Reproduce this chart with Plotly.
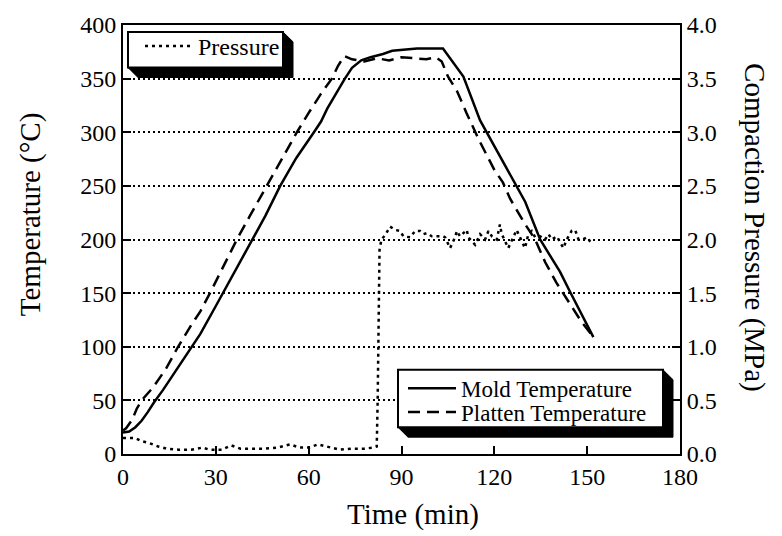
import plotly.graph_objects as go

# ---------------- data ----------------
time_mold = [0, 2, 4, 6, 8, 10, 13, 16, 20, 25, 30, 32.3, 36, 41.7, 46, 50.8, 56, 61.7, 64,
             66, 70, 71.7, 74, 77, 80, 84, 87, 90, 95, 103.4, 106, 110, 115.4, 120, 126.7,
             130, 134.8, 138, 141.2, 144.5, 148, 152]
mold_temp = [20, 21, 25, 31, 39, 48, 60, 73, 90, 112, 138, 150, 170, 200, 222, 250, 276, 300, 310,
             322, 342, 350, 360, 367, 370, 373, 376, 377, 378, 378, 368, 352, 311, 287, 253,
             235, 200, 185, 170, 151, 131, 109]

time_platten = [0, 1, 3, 4.4, 6, 9.7, 14, 17.8, 22, 25, 28.1, 32, 36.8, 41, 46.5, 51, 56.2, 60,
                64, 67.5, 69.5, 71.5, 74, 78, 82, 86, 90, 94, 98, 101, 103, 105, 108, 111, 115,
                120, 122.8, 125.1, 130, 133.2, 136.4, 140, 144.5, 148, 151.5]
platten_temp = [22, 24, 32, 42, 50, 62, 80, 100, 120, 133, 150, 172, 200, 222, 250, 274, 300, 318,
                336, 350, 362, 371, 368, 366, 369, 367, 370, 369, 368, 370, 366, 352, 338, 318, 293,
                265, 253, 238, 214, 200, 179, 160, 139, 124, 111]

time_pressure = [0, 2, 3.9, 6, 8.7, 11.4, 14, 18, 22, 25.7, 28, 32, 35, 38, 42, 46, 50, 54, 57,
                 60, 63, 66, 70, 74, 78, 81, 82, 82.3, 82.5, 82.7, 82.9, 83.5, 84.7, 86.3, 87.9,
                 89.5, 90.6, 92.8, 94.4, 96.0, 97.1, 98.2, 99.8, 101.4, 103.5, 104.1, 105.7,
                 107.3, 107.9, 108.9, 111.1, 111.6, 112.7, 113.8, 115.4, 117.0, 118.1, 119.2,
                 120.8, 121.8, 122.4, 124.5, 126.1, 127.2, 128.3, 129.9, 131.0, 132.1, 133.2,
                 134.8, 136.4, 137.5, 138.6, 140.2, 142.3, 143.4, 145.0, 146.1, 147.2, 148.5,
                 150, 151]
pressure = [0.15, 0.15, 0.15, 0.12, 0.10, 0.07, 0.05, 0.04, 0.04, 0.06, 0.04, 0.04, 0.08, 0.05,
            0.05, 0.05, 0.06, 0.09, 0.06, 0.06, 0.09, 0.07, 0.04, 0.05, 0.05, 0.06, 0.07, 0.5,
            1.0, 1.5, 1.9, 2.0, 2.04, 2.12, 2.09, 2.08, 2.03, 2.02, 2.08, 2.08, 2.05, 2.06, 2.03,
            2.03, 2.03, 2.02, 1.92, 2.02, 2.08, 2.03, 2.09, 2.02, 1.98, 1.95, 2.05, 2.0, 2.08,
            2.03, 2.0, 2.14, 2.05, 1.92, 2.02, 2.09, 2.02, 1.92, 2.05, 2.08, 2.02, 2.03, 2.0,
            2.05, 2.0, 2.03, 1.92, 2.0, 2.08, 2.09, 2.0, 2.0, 2.02, 1.98]

x_ticks = [0, 30, 60, 90, 120, 150, 180]
y_ticks = [0, 50, 100, 150, 200, 250, 300, 350, 400]
y2_ticks = [0.0, 0.5, 1.0, 1.5, 2.0, 2.5, 3.0, 3.5, 4.0]
y2_labels = ["0.0", "0.5", "1.0", "1.5", "2.0", "2.5", "3.0", "3.5", "4.0"]

# ---------------- layout geometry (pixels) ----------------
W, H = 782, 536
PL, PR, PT, PB = 123, 680, 21, 454
FONT = "Liberation Serif"


def px(x):
    return (x - PL) / (PR - PL)


def py(y):
    return (PB - y) / (PB - PT)


def shadow_path(x0, y0, x1, y1, d=10):
    pts = [(x1, y0), (x1 + d, y0 + d), (x1 + d, y1 + d), (x0 + d, y1 + d), (x0, y1), (x1, y1)]
    return "M" + " L".join(f"{px(a):.5f},{py(b):.5f}" for a, b in pts) + " Z"


fig = go.Figure()
fig.add_trace(go.Scatter(x=time_mold, y=mold_temp, mode="lines", name="Mold Temperature",
                         line=dict(color="black", width=2.5), legend="legend2", showlegend=True))
fig.add_trace(go.Scatter(x=time_platten, y=platten_temp, mode="lines", name="Platten Temperature",
                         line=dict(color="black", width=2.5, dash="12px,7px"), legend="legend3",
                         showlegend=True))
fig.add_trace(go.Scatter(x=time_pressure, y=pressure, mode="lines", name="Pressure", yaxis="y2",
                         line=dict(color="black", width=2.5, dash="3px,4px"), legend="legend",
                         showlegend=True))

shapes = []
for (x0, y0, x1, y1) in [(128, 28, 283, 64), (398, 369, 663, 427)]:
    shapes.append(dict(type="path", xref="paper", yref="paper", path=shadow_path(x0, y0, x1, y1),
                       fillcolor="black", line=dict(color="black", width=1), layer="above"))
    shapes.append(dict(type="rect", xref="paper", yref="paper", x0=px(x0), x1=px(x1),
                       y0=py(y1), y1=py(y0), fillcolor="white",
                       line=dict(color="black", width=2), layer="above"))

tickfont = dict(family=FONT, size=24, color="black")


def leg(xp, yp, iw=30, size=24):
    return dict(x=px(xp), y=py(yp), xanchor="left", yanchor="top", visible=True,
                bgcolor="rgba(0,0,0,0)", borderwidth=0, itemwidth=iw,
                font=dict(family=FONT, size=size, color="black"))


fig.update_layout(
    width=W, height=H, autosize=False, showlegend=True,
    margin=dict(l=PL, r=W - PR, t=PT, b=H - PB),
    paper_bgcolor="white", plot_bgcolor="white",
    font=dict(family=FONT, color="black"),
    xaxis=dict(range=[0, 180], tickvals=x_ticks, ticktext=[str(v) for v in x_ticks],
               ticks="inside", ticklen=8, tickwidth=2, tickcolor="black",
               showline=True, linewidth=2, linecolor="black", mirror=True,
               showgrid=False, zeroline=False, tickfont=tickfont),
    yaxis=dict(range=[0, 400], tickvals=y_ticks, ticks="inside", ticklen=8, tickwidth=2,
               tickcolor="black", showline=True, linewidth=2, linecolor="black", mirror=True,
               showgrid=True, gridcolor="black", gridwidth=1.5, griddash="2px,3px",
               zeroline=False, tickfont=tickfont),
    yaxis2=dict(range=[0, 4], tickvals=y2_ticks, ticktext=y2_labels, overlaying="y", side="right",
                ticks="inside", ticklen=8, tickwidth=2, tickcolor="black",
                showline=True, linewidth=2, linecolor="black", showgrid=False, zeroline=False,
                tickfont=tickfont),
    legend=leg(140, 20, 48, 24),
    legend2=leg(403, 366, 48, 23),
    legend3=leg(403, 390, 48, 23),
    shapes=shapes,
    annotations=[
        dict(text="Time (min)", x=px(413), y=py(515), xref="paper", yref="paper",
             xanchor="center", yanchor="middle",
             showarrow=False, font=dict(family=FONT, size=29, color="black")),
        dict(text="Temperature (°C)", x=px(30), y=py(212), xref="paper", yref="paper",
             xanchor="center", yanchor="middle",
             showarrow=False, textangle=-90, font=dict(family=FONT, size=29, color="black")),
        dict(text="Compaction Pressure (MPa)", x=px(755), y=py(225), xref="paper", yref="paper",
             xanchor="center", yanchor="middle",
             showarrow=False, textangle=90, font=dict(family=FONT, size=29, color="black")),
    ],
)

fig.write_html("out.html")
